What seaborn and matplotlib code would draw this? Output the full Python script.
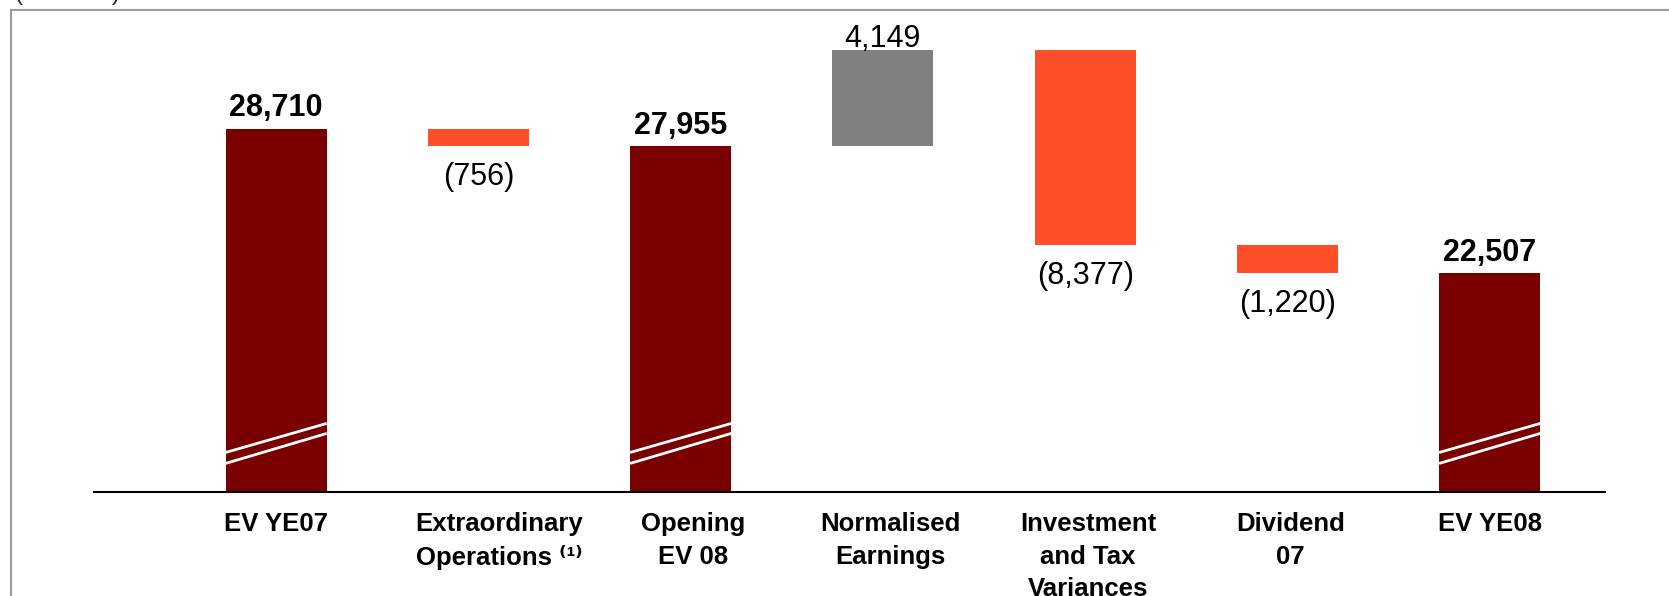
import matplotlib
matplotlib.use("Agg")
import matplotlib.pyplot as plt
from matplotlib.lines import Line2D
import pandas as pd
import seaborn as sns

# Embedded value bridge, year-end 2007 to year-end 2008 (EUR million)
categories = [
    "EV YE07",
    "Extraordinary\nOperations \u207d\u00b9\u207e",
    "Opening\nEV 08",
    "Normalised\nEarnings",
    "Investment\nand Tax\nVariances",
    "Dividend\n07",
    "EV YE08",
]
values = [28710, -756, 27955, 4149, -8377, -1220, 22507]
is_total = [True, False, True, False, False, False, True]
unit_label = "(€ million)"

AXIS_BASE = 13100          # value where the broken axis starts
DARK_RED = "#7A0000"
ORANGE = "#FF4F2A"
GREY = "#808080"
# small horizontal nudges (pixels) of the category text boxes
label_nudge_px = [0, 21, 12, 7.5, 3, 3, 0]

# Build the floating segments of the waterfall
bottoms, heights, colors, labels, label_y, below = [], [], [], [], [], []
level = 0
for v, tot in zip(values, is_total):
    if tot:
        level = v
        bottoms.append(AXIS_BASE)
        heights.append(v - AXIS_BASE)
        colors.append(DARK_RED)
        labels.append(f"{v:,}")
        label_y.append(v)
        below.append(False)
    else:
        start, level = level, level + v
        bottoms.append(min(start, level))
        heights.append(abs(v))
        if v > 0:
            colors.append(GREY)
            labels.append(f"{v:,}")
            label_y.append(max(start, level))
            below.append(False)
        else:
            colors.append(ORANGE)
            labels.append(f"({-v:,})")
            label_y.append(min(start, level))
            below.append(True)

df = pd.DataFrame({"step": categories, "height": heights})

sns.set_theme(style="white")
plt.rcParams["font.family"] = ["Liberation Sans", "DejaVu Sans"]

W, H = 1669, 596
fig = plt.figure(figsize=(W / 100, H / 100), dpi=100)
fig.patch.set_facecolor("white")
ax = fig.add_axes([93.7 / W, 1 - 491.8 / H, (1605 - 93.7) / W, (491.8 - 10) / H])
ax.set_facecolor("none")

sns.barplot(data=df, x="step", y="height", bottom=bottoms, width=0.5,
            color=DARK_RED, saturation=1, errorbar=None, linewidth=0, ax=ax)
for patch, c in zip(ax.patches, colors):
    patch.set_facecolor(c)
    patch.set_edgecolor("none")

ax.set_xlim(-0.902, 6.57)
ax.set_ylim(AXIS_BASE, 33818)

# Axis-break marks on the bars that start at the broken baseline
for i, tot in enumerate(is_total):
    if tot:
        for lo, hi in ((1690, 2940), (1220, 2510)):
            ax.plot([i - 0.25, i + 0.25], [AXIS_BASE + lo, AXIS_BASE + hi],
                    color="white", lw=2, solid_capstyle="butt", zorder=3)

# Value labels
for i, (txt, y, tot, b) in enumerate(zip(labels, label_y, is_total, below)):
    if b:
        ax.annotate(txt, (i, y), xytext=(0, -11.5), textcoords="offset points",
                    ha="center", va="top", fontsize=22, color="black")
    else:
        off = 9 if tot else 2
        ax.annotate(txt, (i, y), xytext=(0, off), textcoords="offset points",
                    ha="center", va="baseline", fontsize=22, color="black",
                    fontweight="bold" if tot else "normal")

# Category labels under the baseline
ax.set_xticks(range(len(categories)))
ax.set_xticklabels([])
for i, (cat, dx) in enumerate(zip(categories, label_nudge_px)):
    ax.annotate(cat, (i, 0), xycoords=ax.get_xaxis_transform(),
                xytext=(dx * 0.72, -14.5), textcoords="offset points",
                ha="center", va="top", multialignment="center",
                fontsize=18.5, fontweight="bold", linespacing=1.455,
                color="black", annotation_clip=False)
ax.tick_params(axis="x", length=0)
ax.set_yticks([])
ax.set_xlabel("")
ax.set_ylabel("")
for s in ("left", "top", "right"):
    ax.spines[s].set_visible(False)
ax.spines["bottom"].set_color("black")
ax.spines["bottom"].set_linewidth(1.5)

# Outer frame and unit caption
fig.add_artist(Line2D([11 / W, 1.0], [1 - 10 / H, 1 - 10 / H],
                      transform=fig.transFigure, color="#9a9a9a", lw=1.5))
fig.add_artist(Line2D([11 / W, 11 / W], [0.0, 1 - 10 / H],
                      transform=fig.transFigure, color="#9a9a9a", lw=1.5))
fig.text(15 / W, 1.0, unit_label, fontsize=17.5, ha="left", va="baseline")

fig.savefig("out.png", dpi=100, facecolor="white")
